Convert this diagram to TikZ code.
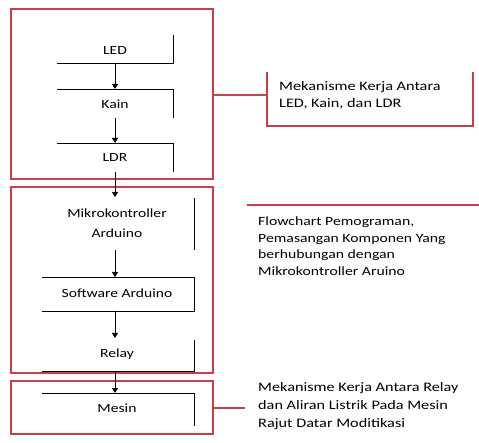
\documentclass[tikz,border=0pt]{standalone}
\usepackage{fontspec}
\setmainfont[FakeStretch=1.25]{Carlito}
\usetikzlibrary{arrows.meta}
\definecolor{frame}{RGB}{200,62,72}
\tikzset{
  redbox/.style={draw=frame, line width=1.2pt},
  redline/.style={draw=frame, line width=1.2pt},
  flow/.style={draw=black, line width=0.9pt},
  arr/.style={flow, -{Triangle[length=5pt,width=6pt]}},
  lbl/.style={inner sep=0pt, font=\fontsize{12.5}{20}\selectfont, align=center},
  note/.style={inner sep=0pt, anchor=west, align=left}
}
\begin{document}
\begin{tikzpicture}[x=1pt,y=-1pt]
\useasboundingbox (0,0) rectangle (479,443);
% red group boxes
\draw[redbox] (11,9) rectangle (213,179);
\draw[redbox] (11,187) rectangle (213,373);
\draw[redbox] (11,381) rectangle (213,434);
% right side notes
\coordinate (g1) at (213,95);
\coordinate (n1) at (267,95);
\draw[redline] (g1) -- (n1);
\draw[redline] (267,72) -- (267,126) -- (473,126) -- (473,72);
\node[note, font=\fontsize{13}{17}\selectfont] (t1) at (279,95) {Mekanisme Kerja Antara\\LED, Kain, dan LDR};
\draw[redline] (247,205) -- (479,205);
\node[note, font=\fontsize{12.6}{16.5}\selectfont] (t2) at (258,246) {Flowchart Pemograman,\\Pemasangan Komponen Yang\\berhubungan dengan\\Mikrokontroller Aruino};
\coordinate (g3) at (213,408);
\coordinate (n3) at (245,408);
\draw[redline] (g3) -- (n3);
\node[note, font=\fontsize{13}{18}\selectfont] (t3) at (258,406) {Mekanisme Kerja Antara Relay\\dan Aliran Listrik Pada Mesin\\Rajut Datar Moditikasi};
% flow elements
\node[lbl] (led) at (115,50) {LED};
\draw[flow] (173,35) -- (173,63) -- (57,63);
\node[lbl] (kain) at (115,104) {Kain};
\draw[flow] (57,89) -- (173,89) -- (173,118);
\node[lbl] (ldr) at (115,157) {LDR};
\draw[flow] (57,143) -- (173,143) -- (173,172);
\node[lbl] (mikro) at (117,223) {Mikrokontroller\\Arduino};
\draw[flow] (194,198) -- (194,250);
\node[lbl] (soft) at (117,293) {Software Arduino};
\draw[flow] (42,277) -- (194,277) -- (194,311) -- (42,311);
\node[lbl] (relay) at (117,354) {Relay};
\draw[flow] (194,340) -- (194,371) -- (42,371);
\node[lbl] (mesin) at (117,408) {Mesin};
\draw[flow] (42,393) -- (194,393) -- (194,426);
% arrows
\coordinate (a1) at (115,63);  \coordinate (b1) at (115,89);
\coordinate (a2) at (115,118); \coordinate (b2) at (115,143);
\coordinate (a3) at (115,172); \coordinate (b3) at (115,197);
\coordinate (a4) at (115,250); \coordinate (b4) at (115,277);
\coordinate (a5) at (115,311); \coordinate (b5) at (115,338);
\coordinate (a6) at (115,371); \coordinate (b6) at (115,393);
\draw[arr] (a1) -- (b1);
\draw[arr] (a2) -- (b2);
\draw[arr] (a3) -- (b3);
\draw[arr] (a4) -- (b4);
\draw[arr] (a5) -- (b5);
\draw[arr] (a6) -- (b6);
\end{tikzpicture}
\end{document}
